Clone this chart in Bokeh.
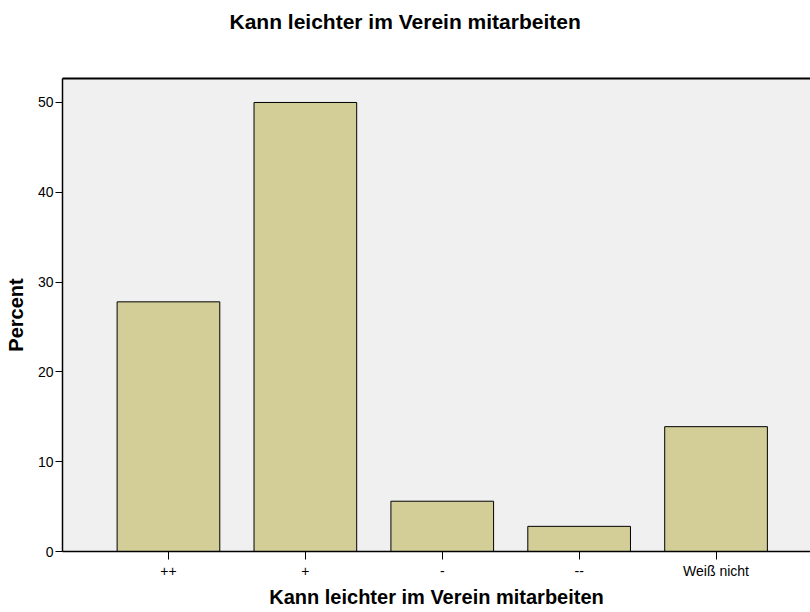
from bokeh.plotting import figure
from bokeh.models import Range1d, LinearAxis, FixedTicker, Title
from bokeh.embed import file_html
from bokeh.resources import INLINE

title_text = "Kann leichter im Verein mitarbeiten"
x_label = "Kann leichter im Verein mitarbeiten"
y_label = "Percent"
categories = ["++", "+", "-", "--", "Weiß nicht"]
percent = [27.8, 50.0, 5.6, 2.8, 13.9]
y_ticks = [0, 10, 20, 30, 40, 50]

FONT = "Liberation Sans"

xs = list(range(len(categories)))

p = figure(width=810, height=612, output_backend="svg", toolbar_location=None,
           x_range=Range1d(-0.774, 4.690), y_range=Range1d(0, 52.67),
           min_border_left=62, min_border_right=0, min_border_top=78,
           min_border_bottom=61, background_fill_color="#F0F0F0",
           border_fill_color="white", outline_line_color=None)

p.vbar(x=xs, top=percent, width=0.75, bottom=0, fill_color="#D3CE98",
       line_color="black", line_width=1)

p.xgrid.visible = False
p.ygrid.visible = False

xa = p.xaxis[0]
xa.ticker = FixedTicker(ticks=xs)
xa.major_label_overrides = {i: c for i, c in zip(xs, categories)}
xa.major_label_text_font = FONT
xa.major_label_text_font_size = "14px"
xa.major_label_text_color = "black"
xa.major_label_standoff = 3
xa.major_tick_in = 0
xa.major_tick_out = 8
xa.minor_tick_in = 0
xa.minor_tick_out = 0
xa.axis_line_color = "black"
xa.axis_line_width = 1.5
xa.major_tick_line_color = "black"

ya = p.yaxis[0]
ya.ticker = FixedTicker(ticks=y_ticks)
ya.major_label_text_font = FONT
ya.major_label_text_font_size = "14px"
ya.major_label_text_color = "black"
ya.major_label_standoff = 2
ya.major_tick_in = 0
ya.major_tick_out = 7
ya.minor_tick_in = 0
ya.minor_tick_out = 0
ya.axis_line_color = "black"
ya.axis_line_width = 1.5
ya.major_tick_line_color = "black"
ya.axis_label = y_label
ya.axis_label_text_font = FONT
ya.axis_label_text_font_size = "20px"
ya.axis_label_text_font_style = "bold"
ya.axis_label_text_color = "black"
ya.axis_label_standoff = 8

top = LinearAxis(ticker=FixedTicker(ticks=[]), major_label_text_font_size="0px",
                 major_tick_in=0, major_tick_out=0, minor_tick_in=0, minor_tick_out=0,
                 axis_line_color="black", axis_line_width=2)
p.add_layout(top, "above")

# empty spacer title to push the main title upward
p.add_layout(Title(text=" ", standoff=20, text_font=FONT, text_font_size="21px",
                   text_font_style="bold"), "above")
p.add_layout(Title(text=title_text, align="left", offset=167, vertical_align="middle",
                   standoff=0, text_font=FONT, text_font_size="21px",
                   text_font_style="bold", text_color="black"), "above")
p.add_layout(Title(text=x_label, align="center", vertical_align="middle",
                   standoff=7, text_font=FONT, text_font_size="20px",
                   text_font_style="bold", text_color="black"), "below")

open("out.html", "w").write(file_html(p, INLINE))
